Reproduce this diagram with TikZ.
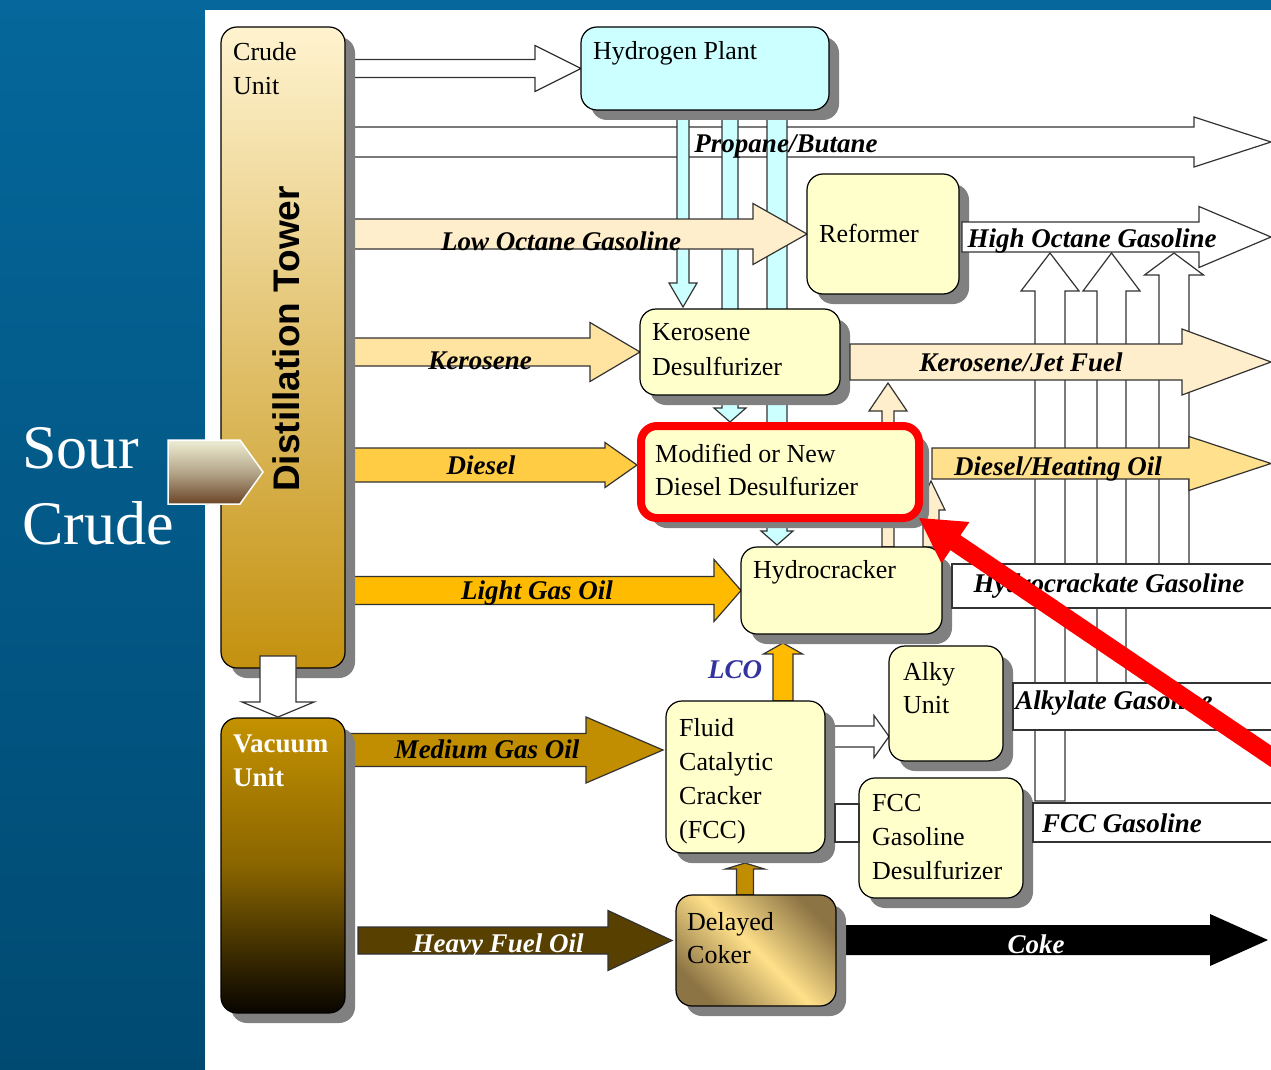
\documentclass[tikz,border=0pt]{standalone}
\usepackage{fontspec}
\setmainfont{Liberation Serif}
\setsansfont{Liberation Sans}
\usepackage{xcolor}
\usepackage{tikz}
\usetikzlibrary{backgrounds}
\usetikzlibrary{calc}
\usetikzlibrary{shadows}

\definecolor{bgtop}{HTML}{05679B}
\definecolor{bgbot}{HTML}{004A72}
\definecolor{boxfill}{HTML}{FFFFCC}
\definecolor{hydro}{HTML}{CCFFFF}
\definecolor{paleoil}{HTML}{FFEECC}
\definecolor{kero}{HTML}{FFE3A0}
\definecolor{heatoil}{HTML}{FFE08C}
\definecolor{diesel}{HTML}{FFCC44}
\definecolor{gasoil}{HTML}{FFBB00}
\definecolor{medoil}{HTML}{C08E00}
\definecolor{heavyoil}{HTML}{574000}
\definecolor{lcoblue}{HTML}{3333A0}
\definecolor{crudetop}{HTML}{FFF3CF}
\definecolor{crudebot}{HTML}{C4910F}
\definecolor{vactop}{HTML}{C49200}
\definecolor{vacmid}{HTML}{8A6500}
\definecolor{vacbot}{HTML}{080500}
\definecolor{cokerdark}{HTML}{8C7444}
\definecolor{cokerlight}{HTML}{FFE08A}
\definecolor{sourtop}{HTML}{EEEED4}
\definecolor{sourmid}{HTML}{B5A68A}
\definecolor{sourbot}{HTML}{6B4526}

% [style]{tail}{tip}{shaft half width}{head half width}{head length}
\newcommand{\blockarrow}[6][]{%
  \coordinate (bas) at (#2);
  \coordinate (bat) at (#3);
  \coordinate (bah) at ($(bat)!#6!(bas)$);
  \path[#1] ($(bas)!#4!90:(bat)$) -- ($(bah)!#4!90:(bat)$) -- ($(bah)!#5!90:(bat)$) -- (bat)
    -- ($(bah)!#5!-90:(bat)$) -- ($(bah)!#4!-90:(bat)$) -- ($(bas)!#4!-90:(bat)$) -- cycle;
}

\begin{document}
\begin{tikzpicture}[x=1pt, y=-1pt,
  plant/.style={draw, line width=1.2pt, rounded corners=16pt, fill=boxfill, inner sep=0pt, outer sep=0pt, anchor=north west,
    drop shadow={shadow xshift=10pt, shadow yshift=-10pt, fill=black!50, opacity=1}},
  planttext/.style={anchor=base west, align=left, inner sep=0pt, font=\fontsize{26}{34}\selectfont},
  flowlabel/.style={anchor=base, inner sep=0pt, font=\fontsize{27}{30}\selectfont\bfseries\itshape},
  flow/.style={draw=black!80, line width=1.2pt}]
  \useasboundingbox (0,0) rectangle (1271,1070);

  \node[plant, minimum width=124pt, minimum height=641pt, top color=crudetop, bottom color=crudebot] (crude) at (221,27) {};
  \node[plant, minimum width=124pt, minimum height=295pt, top color=vactop, bottom color=vacbot, middle color=vacmid] (vacuum) at (221,718) {};
  \node[plant, fill=hydro, minimum width=248pt, minimum height=83pt] (h2) at (581,27) {};
  \node[plant, minimum width=152pt, minimum height=120pt] (reformer) at (807,174) {};
  \node[plant, minimum width=200pt, minimum height=86pt] (kerodesulf) at (640,309) {};
  \node[plant, draw=red, line width=8pt, minimum width=278pt, minimum height=92pt] (dieseldesulf) at (641,426) {};
  \node[plant, minimum width=201pt, minimum height=87pt] (hcracker) at (741,547) {};
  \node[plant, minimum width=114pt, minimum height=115pt] (alky) at (889,646) {};
  \node[plant, minimum width=159pt, minimum height=152pt] (fcc) at (666,701) {};
  \node[plant, minimum width=164pt, minimum height=120pt] (fccdesulf) at (859,778) {};
  \node[plant, minimum width=160pt, minimum height=111pt, top color=cokerdark, bottom color=cokerdark, middle color=cokerlight, shading angle=-45] (coker) at (676,895) {};

  \coordinate (propane-out) at (1271,142);
  \coordinate (highoct-out) at (1271,237);
  \coordinate (jet-out) at (1271,362);
  \coordinate (heat-out) at (1271,463.5);
  \coordinate (coke-out) at (1268,940);
  \coordinate (diesel-in) at ($(dieseldesulf.west)+(-4,-7)$);
  \coordinate (mgo-in) at ($(fcc.west)+(-3,-27)$);
  \coordinate (hfo-in) at ($(coker.west)+(-4,-10)$);
  \coordinate (hfo-src) at ($(vacuum.east |- hfo-in)+(13,0)$);
  \coordinate (alky-in) at ($(alky.west)+(0,33)$);
  \coordinate (lco-in) at (783,643);
  \coordinate (coker-up) at (745,863);
  \coordinate (h2-a) at (683,307);
  \coordinate (h2-b) at (730,422);
  \coordinate (h2-c) at (777,545);
  \coordinate (jet-up) at (888,383);
  \coordinate (heat-up) at (931,481);
  \coordinate (gas-a) at (1050,253);
  \coordinate (gas-a-src) at (1050,801);
  \coordinate (gas-b) at (1111.5,253);
  \coordinate (gas-b-src) at (1111.5,690);
  \coordinate (gas-c) at (1174,253);
  \coordinate (gas-c-src) at (1174,570);

  \begin{pgfonlayer}{background}
    \fill[top color=bgtop, bottom color=bgbot] (0,0) rectangle (1271,1070);
    \fill[white] (205,10) rectangle (1271,1070);
    \blockarrow[flow, fill=white]{crude.east |- propane-out}{propane-out}{15pt}{25pt}{77pt}
    \blockarrow[flow, fill=white]{crude.east |- h2.west}{h2.west}{9pt}{23pt}{46pt}
    \blockarrow[flow, fill=hydro]{h2-a |- h2.south}{h2-a}{6pt}{14pt}{24pt}
    \blockarrow[flow, fill=hydro]{h2-b |- h2.south}{h2-b}{8pt}{16pt}{14pt}
    \blockarrow[flow, fill=hydro]{h2-c |- h2.south}{h2-c}{10pt}{16pt}{14pt}
    \blockarrow[flow, fill=paleoil]{crude.east |- reformer.west}{reformer.west}{15pt}{30.5pt}{54pt}
    \blockarrow[flow, fill=paleoil]{jet-up |- hcracker.north}{jet-up}{6pt}{19pt}{28pt}
    \blockarrow[flow, fill=paleoil]{heat-up |- hcracker.north}{heat-up}{8pt}{14pt}{29pt}
    \blockarrow[flow, fill=white]{gas-a-src}{gas-a}{15pt}{29pt}{38pt}
    \blockarrow[flow, fill=white]{gas-b-src}{gas-b}{14.5pt}{28.5pt}{38pt}
    \blockarrow[flow, fill=white]{gas-c-src}{gas-c}{15pt}{29.5pt}{22pt}
    \blockarrow[flow, fill=kero]{crude.east |- kerodesulf.west}{kerodesulf.west}{14pt}{29.5pt}{50pt}
    \blockarrow[flow, fill=diesel]{crude.east |- diesel-in}{diesel-in}{17pt}{22.5pt}{32pt}
    \blockarrow[flow, fill=gasoil]{crude.east |- hcracker.west}{hcracker.west}{14pt}{31pt}{27pt}
    \blockarrow[flow, fill=medoil]{vacuum.east |- mgo-in}{mgo-in}{16.5pt}{33pt}{77pt}
    \blockarrow[flow, fill=white]{fcc.east |- alky-in}{alky-in}{10.5pt}{21pt}{15pt}
    \blockarrow[flow, fill=gasoil]{lco-in |- fcc.north}{lco-in}{10pt}{19.5pt}{11pt}
    \blockarrow[flow, fill=medoil]{coker-up |- coker.north}{coker-up}{8.5pt}{19.5pt}{6pt}
    \blockarrow[fill=black]{coker.east |- coke-out}{coke-out}{15pt}{26pt}{58pt}
  \end{pgfonlayer}

  \blockarrow[flow, fill=white]{$(reformer.east |- highoct-out)+(3,0)$}{highoct-out}{15pt}{30.5pt}{72pt}
  \blockarrow[flow, fill=paleoil]{$(kerodesulf.east |- jet-out)+(10,0)$}{jet-out}{18pt}{33pt}{89pt}
  \blockarrow[flow, fill=heatoil]{$(dieseldesulf.east |- heat-out)+(13,0)$}{heat-out}{15.5pt}{27pt}{82pt}
  \draw[flow, fill=white] (hcracker.north east) ++(10,17) rectangle ++(340,44);
  \draw[flow, fill=white] (alky.north east) ++(10,37) rectangle ++(280,47);
  \draw[flow, fill=white] (fccdesulf.north east) ++(10,25) rectangle ++(260,39);
  \draw[flow, fill=white] ($(fcc.north east)+(10,103)$) rectangle ($(fccdesulf.west)+(0,4)$);
  \blockarrow[flow, fill=heavyoil]{hfo-src}{hfo-in}{13.5pt}{30pt}{64pt}
  \blockarrow[flow, fill=white]{$(crude.south)+(-5,-12)$}{$(vacuum.north)+(-5,-1)$}{18pt}{36pt}{15pt}

  \node[planttext] (crude-txt) at (233,95) {Crude\\Unit};
  \node[planttext, text=white, font=\fontsize{27}{34}\selectfont\bfseries] (vacuum-txt) at (233,786) {Vacuum\\Unit};
  \node[rotate=90, anchor=base, inner sep=0pt, font=\sffamily\bfseries\fontsize{37}{40}\selectfont] (tower-txt) at (299,339) {Distillation Tower};
  \node[planttext] (h2-txt) at (593,60) {Hydrogen Plant};
  \node[planttext] (reformer-txt) at (819,242) {Reformer};
  \node[planttext, font=\fontsize{26}{35}\selectfont] (kerodesulf-txt) at (652,375) {Kerosene\\Desulfurizer};
  \node[planttext, font=\fontsize{26}{33}\selectfont] (dieseldesulf-txt) at (655,495) {Modified or New\\Diesel Desulfurizer};
  \node[planttext] (hcracker-txt) at (753,578) {Hydrocracker};
  \node[planttext, font=\fontsize{26}{33}\selectfont] (alky-txt) at (903,713) {Alky\\Unit};
  \node[planttext] (fcc-txt) at (679,838) {Fluid\\Catalytic\\Cracker\\(FCC)};
  \node[planttext] (fccdesulf-txt) at (872,879) {FCC\\Gasoline\\Desulfurizer};
  \node[planttext, font=\fontsize{26}{33}\selectfont] (coker-txt) at (687,963) {Delayed\\Coker};

  \node[flowlabel] (propane-lbl) at (786,153) {Propane/Butane};
  \node[flowlabel] (lowoct-lbl) at (561,250) {Low Octane Gasoline};
  \node[flowlabel] (highoct-lbl) at (1092,247) {High Octane Gasoline};
  \node[flowlabel] (kero-lbl) at (480,369) {Kerosene};
  \node[flowlabel] (jet-lbl) at (1021,371) {Kerosene/Jet Fuel};
  \node[flowlabel] (diesel-lbl) at (481,474) {Diesel};
  \node[flowlabel] (heat-lbl) at (1058,475) {Diesel/Heating Oil};
  \node[flowlabel] (lgo-lbl) at (537,599) {Light Gas Oil};
  \node[flowlabel] (hcg-lbl) at (1109,592) {Hydrocrackate Gasoline};
  \node[flowlabel] (alkg-lbl) at (1114,709) {Alkylate Gasoline};
  \node[flowlabel] (fccg-lbl) at (1122,832) {FCC Gasoline};
  \node[flowlabel] (mgo-lbl) at (487,758) {Medium Gas Oil};
  \node[flowlabel, text=white] (hfo-lbl) at (498,952) {Heavy Fuel Oil};
  \node[flowlabel, text=white] (coke-lbl) at (1036,953) {Coke};
  \node[flowlabel, text=lcoblue] (lco-lbl) at (735,678) {LCO};

  \coordinate (note-src) at (1300,776);
  \blockarrow[fill=red]{note-src}{dieseldesulf.south east}{9pt}{25pt}{44pt}

  \coordinate (sour-src) at (168,472);
  \coordinate (sour-tip) at (263,472);
  \blockarrow[draw=white, line width=1.5pt, top color=sourtop, bottom color=sourbot, middle color=sourmid]{sour-src}{sour-tip}{32pt}{32pt}{23pt}
  \node[anchor=base west, align=left, inner sep=0pt, text=white, font=\fontsize{62}{76}\selectfont] (sour-txt) at (22,544) {Sour\\Crude};
\end{tikzpicture}
\end{document}
